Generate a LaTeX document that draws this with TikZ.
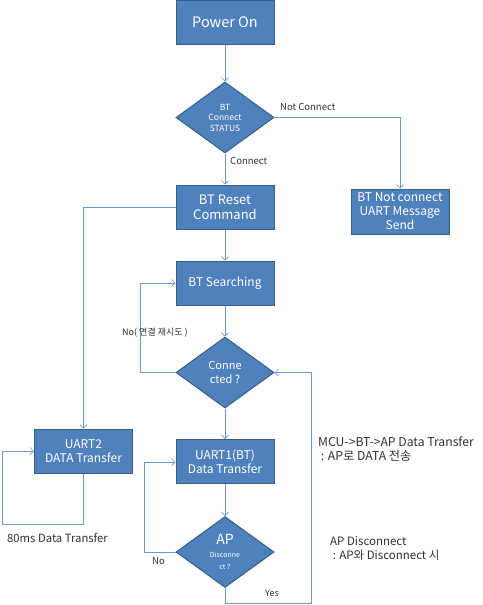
\documentclass[tikz,border=0pt]{standalone}
\usepackage{fontspec}
\setmainfont{Noto Sans CJK KR}
\usetikzlibrary{shapes.geometric,arrows.meta}
\definecolor{boxfill}{HTML}{4F81BD}
\definecolor{boxline}{HTML}{385D8A}
\definecolor{conn}{HTML}{6A97CF}
\definecolor{lbl}{HTML}{303030}
\begin{document}
\begin{tikzpicture}[x=1pt,y=-1pt,
  procbox/.style={draw=boxline,line width=1pt,fill=boxfill,text=white,
    minimum width=98pt,minimum height=44pt,inner sep=1pt,align=center,
    font=\fontsize{12}{14}\selectfont},
  decbox/.style={draw=boxline,line width=1pt,fill=boxfill,text=white,
    diamond,minimum width=98pt,minimum height=71pt,aspect=1.38,inner sep=0pt,
    align=center},
  flow/.style={draw=conn,line width=0.6pt,-{Straight Barb[length=3.5pt,width=7pt]}},
  plain/.style={draw=conn,line width=0.6pt},
  note/.style={text=lbl,font=\fontsize{9.5}{11}\selectfont,inner sep=0pt},
  bignote/.style={text=lbl,font=\fontsize{11.5}{14}\selectfont,inner sep=0pt,align=left}]
\useasboundingbox (0,0) rectangle (482,605);

\node[procbox,font=\fontsize{14.5}{16}\selectfont] (pwr) at (225,22) {Power On};
\node[decbox,font=\fontsize{8.5}{10.5}\selectfont] (bts) at (225,117.5) {BT\\Connect\\STATUS};
\node[procbox,font=\fontsize{13}{15}\selectfont] (rst) at (225,207) {BT Reset\\Command};
\node[procbox] (srch) at (225,283) {BT Searching};
\node[decbox,font=\fontsize{11}{14}\selectfont] (cnd) at (225,372.5) {Conne\\cted ?};
\node[procbox] (u1) at (225,461.5) {UART1(BT)\\Data Transfer};
\node[decbox] (apd) at (225,552) {{\fontsize{14}{14}\selectfont AP}\\[1pt]{\fontsize{7}{9}\selectfont Disconne}\\{\fontsize{7}{9}\selectfont ct ?}};
\node[procbox] (u2) at (83.5,451) {UART2\\DATA Transfer};
\node[procbox,minimum height=45pt] (nc) at (400,211.5) {BT Not connect\\UART Message\\Send};

\coordinate (c1) at (400,117.5);
\coordinate (c2) at (83.5,207);
\coordinate (c3) at (140,372.5);
\coordinate (c4) at (140,283);
\coordinate (c5) at (144,552);
\coordinate (c6) at (144,462);
\coordinate (c7) at (225,603);
\coordinate (c8) at (311,603);
\coordinate (c9) at (311,372.5);
\coordinate (c10) at (83.5,524);
\coordinate (c11) at (2,524);
\coordinate (c12) at (2,451);

\draw[flow] (pwr) -- (bts);
\draw[flow] (bts) -- (rst);
\draw[flow] (bts.east) -- (c1) -- (nc.north);
\draw[flow] (rst) -- (srch);
\draw[flow] (srch) -- (cnd);
\draw[flow] (cnd) -- (u1);
\draw[flow] (u1) -- (apd);
\draw[flow] (cnd.west) -- (c3) -- (c4) -- (srch.west);
\draw[flow] (apd.west) -- (c5) -- (c6) -- (u1.west |- c6);
\draw[flow] (apd.south) -- (c7) -- (c8) -- (c9) -- (cnd.east);
\draw[flow] (rst.west) -- (c2) -- (u2.north);
\draw[flow] (u2.south) -- (c10) -- (c11) -- (c12) -- (u2.west);

\node[note,anchor=west] (lnc) at (280,107) {Not Connect};
\node[note,anchor=west] (lc) at (230,161) {Connect};
\node[note,anchor=west,font=\fontsize{9}{11}\selectfont] (lno1) at (122,333) {No( 연결 재시도 )};
\node[note,anchor=west] (lno2) at (152,561) {No};
\node[note,anchor=west,font=\fontsize{9}{11}\selectfont] (lyes) at (265,593) {Yes};
\node[bignote,anchor=west,font=\fontsize{11.3}{14}\selectfont] (l80) at (7,538) {80ms Data Transfer};
\node[bignote,anchor=north west,font=\fontsize{12.2}{14}\selectfont] (lmcu) at (318,436) {MCU->BT->AP Data Transfer\\\ : AP로 DATA 전송};
\node[bignote,anchor=north west] (lapd) at (330,536) {AP Disconnect\\\ : AP와 Disconnect 시};
\end{tikzpicture}
\end{document}
